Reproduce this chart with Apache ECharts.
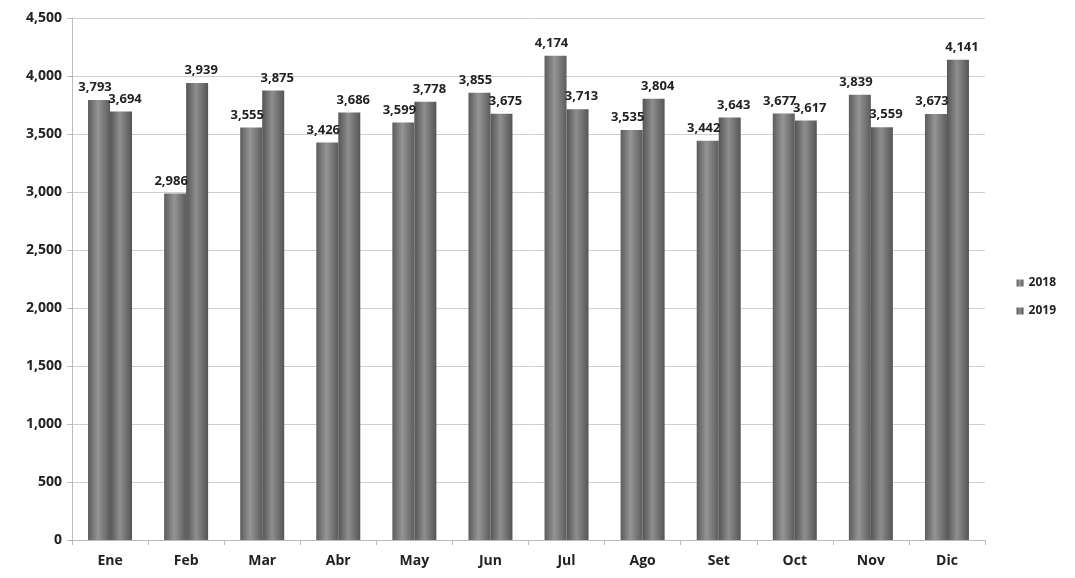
<!DOCTYPE html>
<html><head><meta charset="utf-8">
<script src="https://cdn.jsdelivr.net/npm/echarts@6/dist/echarts.min.js"></script>
<style>html,body{margin:0;padding:0;background:#fff}#c{width:1075px;height:578px}</style>
</head><body><div id="c"></div>
<script>
const categories = ['Ene','Feb','Mar','Abr','May','Jun','Jul','Ago','Set','Oct','Nov','Dic'];
const s2018 = [3793,2986,3555,3426,3599,3855,4174,3535,3442,3677,3839,3673];
const s2019 = [3694,3939,3875,3686,3778,3675,3713,3804,3643,3617,3559,4141];
const yTicks = [0,500,1000,1500,2000,2500,3000,3500,4000,4500];

function grad(a,b){
  return new echarts.graphic.LinearGradient(0,0,1,0,[
    {offset:0,color:a},{offset:0.45,color:b},{offset:1,color:a}]);
}
const font = 'Open Sans, Liberation Sans, sans-serif';
const chart = echarts.init(document.getElementById('c'));
chart.setOption({
  animation:false,
  backgroundColor:'#fff',
  grid:{left:72,right:90,top:18,bottom:38},
  legend:{
    orient:'vertical', right:14, top:272, itemWidth:7, itemHeight:7, itemGap:16,
    textStyle:{fontFamily:font,fontWeight:'bold',fontSize:12,color:'#222'},
    data:[{name:'2018',icon:'rect'},{name:'2019',icon:'rect'}]
  },
  xAxis:{
    type:'category', data:categories,
    axisLine:{lineStyle:{color:'#bbb'}},
    axisTick:{show:true,lineStyle:{color:'#bbb'},length:5},
    axisLabel:{fontFamily:font,fontWeight:'bold',fontSize:14,color:'#222',margin:14}
  },
  yAxis:{
    type:'value', min:0, max:4500, interval:500,
    axisLine:{show:true,lineStyle:{color:'#bbb'}},
    axisTick:{show:true,lineStyle:{color:'#bbb'},length:5},
    splitLine:{lineStyle:{color:'#cfcfcf'}},
    axisLabel:{fontFamily:font,fontWeight:'bold',fontSize:14,color:'#222',margin:10,
      formatter:v=>yTicks.includes(v)?v.toLocaleString('en-US'):''}
  },
  series:[
    {name:'2018',type:'bar',data:s2018,barWidth:22,barGap:'0%',
      itemStyle:{color:grad('#5c5c5c','#959595')},
      label:{show:true,position:'top',distance:6,offset:[-4,0],fontFamily:font,fontWeight:'bold',fontSize:13,color:'#222',
        formatter:p=>p.value.toLocaleString('en-US')}},
    {name:'2019',type:'bar',data:s2019,barWidth:22,
      itemStyle:{color:grad('#555555','#8e8e8e')},
      label:{show:true,position:'top',distance:6,offset:[4,0],fontFamily:font,fontWeight:'bold',fontSize:13,color:'#222',
        formatter:p=>p.value.toLocaleString('en-US')}}
  ]
});
</script></body></html>
